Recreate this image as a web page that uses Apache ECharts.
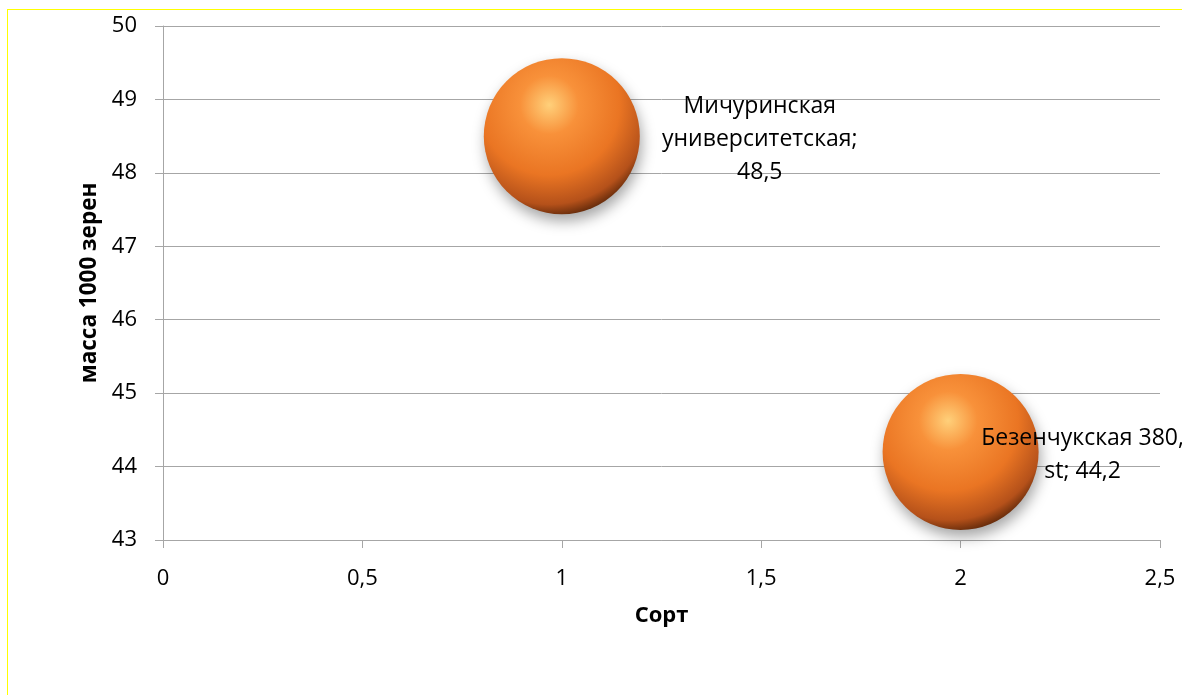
<!DOCTYPE html>
<html>
<head>
<meta charset="utf-8">
<script src="https://cdn.jsdelivr.net/npm/echarts@6/dist/echarts.min.js"></script>
<style>
  html, body { margin: 0; padding: 0; background: #fff; }
  #chart { position: absolute; left: 0; top: 0; width: 1182px; height: 695px; }
  #frame { position: absolute; left: 7px; top: 9px; width: 1200px; height: 720px; z-index: 5;
           pointer-events: none; border-left: 1px solid #ffff00; border-top: 1px solid #ffff00; }
</style>
</head>
<body>
<div id="chart"></div>
<div id="frame"></div>
<script>
// данные
const sortX = [1, 2]
const massY = [48.5, 44.2]
const labelTexts = ['Мичуринская\nуниверситетская;\n48,5', 'Безенчукская 380,\nst; 44,2']
const labelOffsets = [[198, 3], [122, 3]]

const xTicks = { min: 0, max: 2.5, interval: 0.5 }
const yTicks = { min: 43, max: 50, interval: 1 }

const font = 'Open Sans'
const chart = echarts.init(document.getElementById('chart'))

const sphere = {
  type: 'radial', x: 0.42, y: 0.3, r: 0.75,
  colorStops: [
    { offset: 0, color: '#ffd07a' },
    { offset: 0.25, color: '#f8913a' },
    { offset: 0.6, color: '#ea7523' },
    { offset: 0.85, color: '#b5511a' },
    { offset: 1, color: '#451c05' },
  ],
}

chart.setOption({
  animation: false,
  grid: { left: 163, right: 22, top: 26, bottom: 155 },
  xAxis: {
    type: 'value',
    min: xTicks.min, max: xTicks.max, interval: xTicks.interval,
    name: 'Сорт',
    nameLocation: 'middle',
    nameGap: 65,
    nameTextStyle: { fontFamily: font, fontWeight: 'bold', fontSize: 22, color: '#000' },
    axisLine: { show: true, lineStyle: { color: '#a6a6a6', width: 1 } },
    axisTick: { show: true, length: 8, lineStyle: { color: '#a6a6a6' } },
    axisLabel: {
      margin: 28, fontFamily: font, fontSize: 22, color: '#000',
      formatter: v => String(v).replace('.', ','),
    },
    splitLine: { show: false },
  },
  yAxis: {
    type: 'value',
    min: yTicks.min, max: yTicks.max, interval: yTicks.interval,
    name: 'масса 1000 зерен',
    nameLocation: 'middle',
    nameGap: 60,
    nameTextStyle: { fontFamily: font, fontWeight: 'bold', fontSize: 22.5, color: '#000' },
    axisLine: { show: true, lineStyle: { color: '#a6a6a6', width: 1 } },
    axisTick: { show: true, length: 8, lineStyle: { color: '#a6a6a6' } },
    axisLabel: { margin: 26, fontFamily: font, fontSize: 22, color: '#000' },
    splitLine: { show: true, lineStyle: { color: '#a6a6a6', width: 1 } },
  },
  series: [{
    type: 'scatter',
    symbol: 'circle',
    symbolSize: 156,
    data: sortX.map((x, i) => ({
      value: [x, massY[i]],
      label: {
        show: true,
        position: 'inside',
        offset: labelOffsets[i],
        formatter: labelTexts[i],
        align: 'center',
        verticalAlign: 'middle',
        fontFamily: font,
        fontSize: 23,
        lineHeight: 33,
        color: '#000',
      },
    })),
    itemStyle: {
      color: sphere,
      opacity: 1,
      shadowBlur: 14,
      shadowColor: 'rgba(0,0,0,0.35)',
      shadowOffsetX: 2,
      shadowOffsetY: 7,
    },
  }],
})
</script>
</body>
</html>
